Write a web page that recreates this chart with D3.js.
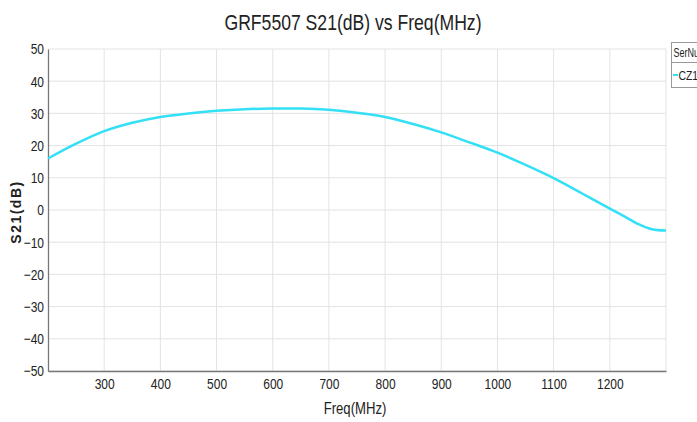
<!DOCTYPE html>
<html>
<head>
<meta charset="utf-8">
<script src="https://cdn.jsdelivr.net/npm/d3@7"></script>
<style>
  body { margin: 0; background: #fff; }
  svg { display: block; }
  text { font-family: "Liberation Sans", Arial, sans-serif; fill: #222; }
</style>
</head>
<body>
<svg id="chart" width="697" height="422"></svg>
<script>
const freq = [200, 250, 300, 350, 400, 450, 500, 550, 600, 650, 700, 750, 800, 850, 900, 950, 1000, 1050, 1100, 1150, 1200, 1225, 1250, 1275, 1300];
const s21 = [16.0, 20.6, 24.5, 27.1, 28.9, 30.0, 30.8, 31.3, 31.5, 31.5, 31.1, 30.2, 28.9, 26.7, 24.1, 21.0, 17.8, 14.0, 9.9, 5.2, 0.4, -1.9, -4.3, -6.0, -6.4];
const xTicks = [300, 400, 500, 600, 700, 800, 900, 1000, 1100, 1200];
const yTicks = [50, 40, 30, 20, 10, 0, -10, -20, -30, -40, -50];
const seriesName = "CZ1";
const legendTitle = "SerNu";

const svg = d3.select("#chart");
const m = { left: 48, right: 666, top: 49, bottom: 371 };
const x = d3.scaleLinear().domain([200, 1300]).range([m.left, m.right]);
const y = d3.scaleLinear().domain([-50, 50]).range([m.bottom, m.top]);
const SX = 0.8;

// grid
const grid = svg.append("g");
grid.selectAll("line.v").data(xTicks.concat([1300])).enter().append("line")
  .attr("x1", d => x(d)).attr("x2", d => x(d)).attr("y1", m.top).attr("y2", m.bottom)
  .attr("stroke", "#e3e3e3").attr("stroke-width", 1);
grid.selectAll("line.h").data(yTicks).enter().append("line")
  .attr("x1", m.left).attr("x2", m.right).attr("y1", d => y(d)).attr("y2", d => y(d))
  .attr("stroke", "#e3e3e3").attr("stroke-width", 1);

// axes
const xAxis = svg.append("g").attr("transform", `translate(0,${m.bottom})`)
  .call(d3.axisBottom(x).tickValues(xTicks).tickFormat(d3.format("d")).tickSize(0).tickPadding(7).tickSizeOuter(0));
xAxis.select(".domain").attr("stroke", "#777").attr("stroke-width", 1.3);
xAxis.selectAll("text").attr("font-size", 15).attr("font-family", null).attr("fill", "#222")
  .attr("transform", `scale(${SX},1)`);

const yAxis = svg.append("g").attr("transform", `translate(${m.left},0)`)
  .call(d3.axisLeft(y).tickValues(yTicks).tickFormat(d3.format("d")).tickSize(0).tickPadding(5).tickSizeOuter(0));
yAxis.select(".domain").attr("stroke", "#777").attr("stroke-width", 1.3);
yAxis.selectAll("text").attr("font-size", 15).attr("font-family", null).attr("fill", "#222")
  .attr("transform", `scale(${SX},1)`);

// line
const line = d3.line().x((d, i) => x(freq[i])).y(d => y(d)).curve(d3.curveCatmullRom.alpha(0.5));
svg.append("path").datum(s21).attr("d", line)
  .attr("fill", "none").attr("stroke", "#33e0f5").attr("stroke-width", 2.5);

// title
svg.append("text").attr("transform", `translate(353,30) scale(${SX},1)`).attr("text-anchor", "middle")
  .attr("font-size", 22).text("GRF5507 S21(dB) vs Freq(MHz)");

// axis titles
svg.append("text").attr("transform", `translate(355,414) scale(0.82,1)`).attr("text-anchor", "middle")
  .attr("font-size", 16).text("Freq(MHz)");
svg.append("text").attr("transform", "translate(21,212) rotate(-90)").attr("text-anchor", "middle")
  .attr("font-size", 14).attr("font-weight", "bold").attr("letter-spacing", 1.5)
  .text("S21(dB)");

// legend
const lg = svg.append("g");
lg.append("rect").attr("x", 671.5).attr("y", 42.5).attr("width", 40).attr("height", 45)
  .attr("fill", "#fff").attr("stroke", "#999");
lg.append("line").attr("x1", 671.5).attr("x2", 711).attr("y1", 62.5).attr("y2", 62.5).attr("stroke", "#999");
lg.append("text").attr("transform", `translate(673.5,57) scale(0.72,1)`).attr("font-size", 12.5).text(legendTitle);
lg.append("line").attr("x1", 673).attr("x2", 678).attr("y1", 75).attr("y2", 75)
  .attr("stroke", "#33e0f5").attr("stroke-width", 2);
lg.append("text").attr("transform", `translate(678.5,80) scale(${SX},1)`).attr("font-size", 13).text(seriesName);
</script>
</body>
</html>
